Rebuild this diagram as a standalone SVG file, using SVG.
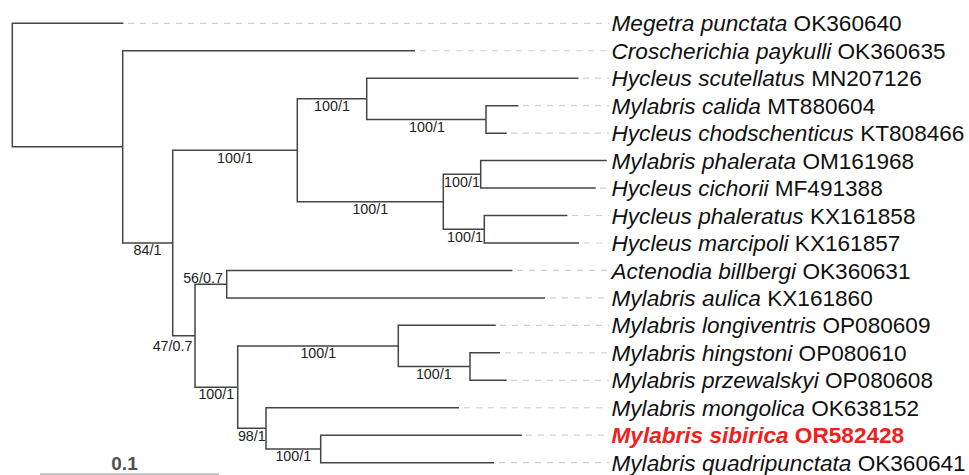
<svg xmlns="http://www.w3.org/2000/svg" width="969" height="475" viewBox="0 0 969 475">
  <style>
    .br { stroke: #444; stroke-width: 1.5; fill: none; stroke-linecap: square; }
    .lead { stroke: #cfcfcf; stroke-width: 1.2; stroke-dasharray: 6 6; fill: none; }
    .tip { font-family: "Liberation Sans", Arial, sans-serif; font-size: 22.6px; fill: #111; }
    .tip .sp { font-style: italic; }
    .hl { fill: #ee2020; font-weight: bold; }
    .sup { font-family: "Liberation Sans", Arial, sans-serif; font-size: 14.3px; fill: #222; text-anchor: middle; }
    .scale { font-family: "Liberation Sans", Arial, sans-serif; font-size: 19px; font-weight: bold; fill: #505050; text-anchor: middle; }
  </style>
  <rect width="969" height="475" fill="#ffffff"/>

  <!-- branches: vertical spans at internal nodes, horizontal edges to children -->
  <g id="connectors">
    <path class="br" d="
      M12.3 23.3 V146.87
      M12.3 23.3 H122.7
      M12.3 146.87 H122.7
      M122.7 50.76 V242.98
      M122.7 50.76 H414.3
      M122.7 242.98 H172.7
      M172.7 150.3 V335.66
      M172.7 150.3 H297.3
      M172.7 335.66 H195
      M297.3 98.82 V201.79
      M297.3 98.82 H366.7
      M297.3 201.79 H443.3
      M366.7 78.22 V119.41
      M366.7 78.22 H577.7
      M366.7 119.41 H486
      M486 105.68 V133.14
      M486 105.68 H517.7
      M486 133.14 H506
      M443.3 174.33 V229.25
      M443.3 174.33 H480.7
      M443.3 229.25 H484.3
      M480.7 160.6 V188.06
      M480.7 160.6 H606
      M480.7 188.06 H595
      M484.3 215.52 V242.98
      M484.3 215.52 H566.7
      M484.3 242.98 H578.3
      M195 284.17 V387.15
      M195 284.17 H226.7
      M195 387.15 H237.7
      M226.7 270.44 V297.9
      M226.7 270.44 H511.7
      M226.7 297.9 H544.3
      M237.7 345.96 V428.34
      M237.7 345.96 H398.3
      M237.7 428.34 H266
      M398.3 325.36 V366.55
      M398.3 325.36 H495
      M398.3 366.55 H470
      M470 352.82 V380.28
      M470 352.82 H499.3
      M470 380.28 H506
      M266 407.74 V448.93
      M266 407.74 H458.3
      M266 448.93 H320.7
      M320.7 435.2 V462.66
      M320.7 435.2 H521
      M320.7 462.66 H493.3"/>
    <!-- dotted leaders from branch tips to the labels -->
    <path class="lead" d="
      M128 23.3 H609
      M420 50.76 H609
      M583 78.22 H609
      M523 105.68 H609
      M511 133.14 H609
      M600 188.06 H609
      M572 215.52 H609
      M584 242.98 H609
      M517 270.44 H609
      M550 297.9 H609
      M500 325.36 H609
      M505 352.82 H609
      M511 380.28 H609
      M464 407.74 H609
      M526 435.2 H609
      M499 462.66 H609"/>
    <!-- support values (bootstrap / posterior) -->
    <g id="supports">
      <text class="sup" x="147.5" y="255.3">84/1</text>
      <text class="sup" x="235" y="162.7">100/1</text>
      <text class="sup" x="332" y="111.2">100/1</text>
      <text class="sup" x="427" y="131.8">100/1</text>
      <text class="sup" x="370.3" y="214.3">100/1</text>
      <text class="sup" x="462" y="186.5">100/1</text>
      <text class="sup" x="465" y="241.5">100/1</text>
      <text class="sup" x="203" y="282.7">56/0.7</text>
      <text class="sup" x="172.5" y="350.7">47/0.7</text>
      <text class="sup" x="216.3" y="399.4">100/1</text>
      <text class="sup" x="318.3" y="358.2">100/1</text>
      <text class="sup" x="433.8" y="378.7">100/1</text>
      <text class="sup" x="251.8" y="440.5">98/1</text>
      <text class="sup" x="293.3" y="460.8">100/1</text>
    </g>
  </g>

  <!-- tip labels -->
  <g id="t-megetra-punctata"><text class="tip" x="611.5" y="31.4"><tspan class="sp">Megetra punctata</tspan> OK360640</text></g>
  <g id="t-croscherichia-paykulli"><text class="tip" x="611.5" y="58.86"><tspan class="sp">Croscherichia paykulli</tspan> OK360635</text></g>
  <g id="t-hycleus-scutellatus"><text class="tip" x="611.5" y="86.32"><tspan class="sp">Hycleus scutellatus</tspan> MN207126</text></g>
  <g id="t-mylabris-calida"><text class="tip" x="611.5" y="113.78"><tspan class="sp">Mylabris calida</tspan> MT880604</text></g>
  <g id="t-hycleus-chodschenticus"><text class="tip" x="611.5" y="141.24"><tspan class="sp">Hycleus chodschenticus</tspan> KT808466</text></g>
  <g id="t-mylabris-phalerata"><text class="tip" x="611.5" y="168.7"><tspan class="sp">Mylabris phalerata</tspan> OM161968</text></g>
  <g id="t-hycleus-cichorii"><text class="tip" x="611.5" y="196.16"><tspan class="sp">Hycleus cichorii</tspan> MF491388</text></g>
  <g id="t-hycleus-phaleratus"><text class="tip" x="611.5" y="223.62"><tspan class="sp">Hycleus phaleratus</tspan> KX161858</text></g>
  <g id="t-hycleus-marcipoli"><text class="tip" x="611.5" y="251.08"><tspan class="sp">Hycleus marcipoli</tspan> KX161857</text></g>
  <g id="t-actenodia-billbergi"><text class="tip" x="611.5" y="278.54"><tspan class="sp">Actenodia billbergi</tspan> OK360631</text></g>
  <g id="t-mylabris-aulica"><text class="tip" x="611.5" y="306"><tspan class="sp">Mylabris aulica</tspan> KX161860</text></g>
  <g id="t-mylabris-longiventris"><text class="tip" x="611.5" y="333.46"><tspan class="sp">Mylabris longiventris</tspan> OP080609</text></g>
  <g id="t-mylabris-hingstoni"><text class="tip" x="611.5" y="360.92"><tspan class="sp">Mylabris hingstoni</tspan> OP080610</text></g>
  <g id="t-mylabris-przewalskyi"><text class="tip" x="611.5" y="388.38"><tspan class="sp">Mylabris przewalskyi</tspan> OP080608</text></g>
  <g id="t-mylabris-mongolica"><text class="tip" x="611.5" y="415.84"><tspan class="sp">Mylabris mongolica</tspan> OK638152</text></g>
  <g id="t-mylabris-sibirica"><text class="tip hl" x="611.5" y="443.3"><tspan class="sp">Mylabris sibirica</tspan> OR582428</text></g>
  <g id="t-mylabris-quadripunctata"><text class="tip" x="611.5" y="470.76"><tspan class="sp">Mylabris quadripunctata</tspan> OK360641</text></g>

  <!-- scale bar -->
  <g id="scale-bar">
    <text class="scale" x="124.5" y="470.3">0.1</text>
    <line x1="40" y1="474.3" x2="219" y2="474.3" stroke="#bdbdbd" stroke-width="2"/>
  </g>
</svg>
